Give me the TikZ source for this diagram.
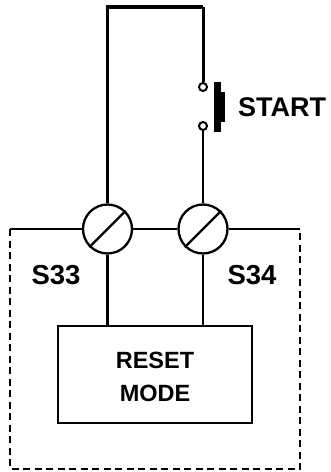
\documentclass[tikz,border=0pt]{standalone}
\usepackage{fontspec}
\setmainfont{Liberation Sans}
\begin{document}
\begin{tikzpicture}[x=1pt,y=-1pt,
  wire/.style={line width=2.3pt},
  thickwire/.style={line width=3.8pt},
  term/.style={circle,draw,line width=2.3pt,minimum size=49pt,inner sep=0pt},
  contact/.style={circle,draw,line width=2pt,minimum size=8pt,inner sep=0pt,fill=white},
  lbl/.style={font=\bfseries\fontsize{27.5}{30}\selectfont,inner sep=0pt},
  boxlbl/.style={font=\bfseries\fontsize{23.5}{33}\selectfont,align=center,inner sep=0pt},
  border/.style={line width=2pt,dash pattern=on 7pt off 4.5pt}]
\useasboundingbox (0,0) rectangle (330,472);
% terminals
\node[term] (t1) at (107.5,229) {};
\node[term] (t2) at (203,229) {};
\draw[wire] (t1.225) -- (t1.45);
\draw[wire] (t2.225) -- (t2.45);
% contacts
\node[contact] (c1) at (203,87) {};
\node[contact] (c2) at (203,126) {};
\coordinate (tl) at (107.5,7);
\coordinate (tr) at (203,7);
\draw[line width=3pt] (tr) -- (c1.north);
\draw[thickwire,line join=miter] (t1.north) -- (tl) -- (tr);
\draw[line width=2.8pt] (c2.south) -- (t2.north);
% push button
\fill (214,82) rectangle (221,132);
\fill (214,92) rectangle (225,122);
\node[font=\bfseries\fontsize{27}{30}\selectfont,anchor=west,inner sep=0pt] (start) at (238,107) {START};
% box
\node[draw,line width=2.3pt,minimum width=194pt,minimum height=97pt,inner sep=0pt] (box) at (155,374.5) {};
\node[boxlbl] (boxtext) at (155,377) {RESET\\MODE};
\draw[wire] (t1.south) -- (t1.south |- box.north);
\draw[wire] (t2.south) -- (t2.south |- box.north);
% labels
\node[lbl] (s33) at (56,275) {S33};
\node[lbl] (s34) at (252,275) {S34};
% enclosure
\coordinate (el) at (10,229);
\coordinate (er) at (300,229);
\coordinate (bl) at (10,469);
\coordinate (br) at (300,469);
\draw[wire] (el) -- (t1.west);
\draw[wire] (t1.east) -- (t2.west);
\draw[wire] (t2.east) -- (er);
\draw[border] (el) -- (bl) -- (br) -- (er);
\end{tikzpicture}
\end{document}
